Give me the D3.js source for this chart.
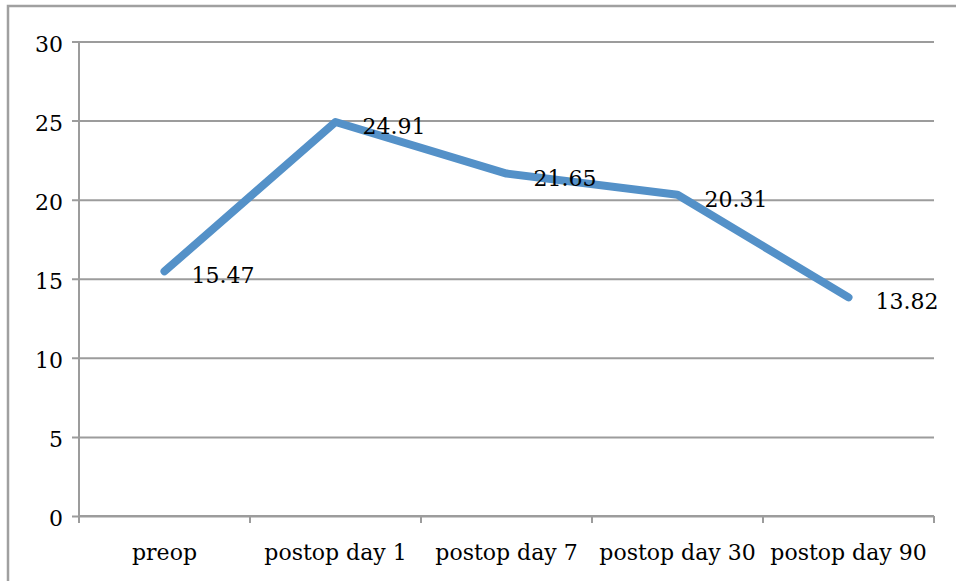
<!DOCTYPE html>
<html>
<head>
<meta charset="utf-8">
<script src="https://cdn.jsdelivr.net/npm/d3@7"></script>
<style>
  html, body { margin: 0; padding: 0; background: #fff; }
  svg { display: block; }
</style>
</head>
<body>
<div id="chart"></div>
<script>
  // ── Data ────────────────────────────────────────────────────────────────
  var categories = ["preop", "postop day 1", "postop day 7", "postop day 30", "postop day 90"];
  var values     = [15.47, 24.91, 21.65, 20.31, 13.82];
  var yTicks     = [0, 5, 10, 15, 20, 25, 30];

  var W = 956, H = 581;
  var margin = { top: 41.5, right: 22, bottom: 65, left: 79 };
  var iW = W - margin.left - margin.right;
  var iH = H - margin.top - margin.bottom;
  var font = "'DejaVu Serif', serif";
  var grid = "#9c9c9c";
  var ink  = "#000";

  var svg = d3.select("#chart").append("svg").attr("width", W).attr("height", H);

  // outer frame (only top/left visible in the crop)
  svg.append("rect").attr("x", 8).attr("y", 6).attr("width", W + 10).attr("height", H + 10)
    .attr("fill", "none").attr("stroke", "#a0a0a0").attr("stroke-width", 2.5);

  var g = svg.append("g").attr("transform", "translate(" + margin.left + "," + margin.top + ")");

  var x = d3.scaleBand().domain(categories).range([0, iW]);
  var y = d3.scaleLinear().domain([0, 30]).range([iH, 0]);

  // ── Gridlines + y axis ──────────────────────────────────────────────────
  var gY = g.append("g").call(d3.axisLeft(y).tickValues(yTicks).tickSize(-iW).tickPadding(16));
  gY.select(".domain").remove();
  gY.selectAll("line").attr("stroke", grid).attr("stroke-width", 2).attr("x1", -7);
  gY.selectAll("text").attr("fill", ink).attr("dy", "0.45em")
    .style("font-family", font).style("font-size", "22px");

  g.append("line").attr("x1", 0).attr("x2", 0).attr("y1", 0).attr("y2", iH + 7)
    .attr("stroke", grid).attr("stroke-width", 2);

  // ── x axis ──────────────────────────────────────────────────────────────
  var gX = g.append("g").attr("transform", "translate(0," + iH + ")");
  gX.append("line").attr("x1", 0).attr("x2", iW).attr("stroke", grid).attr("stroke-width", 2);
  var edges = categories.map(function (c) { return x(c); }).concat([iW]);
  gX.selectAll(".tk").data(edges).enter().append("line").attr("class", "tk")
    .attr("x1", function (d) { return d; }).attr("x2", function (d) { return d; })
    .attr("y1", 0).attr("y2", 7).attr("stroke", grid).attr("stroke-width", 2);
  gX.selectAll(".cl").data(categories).enter().append("text").attr("class", "cl")
    .attr("x", function (d) { return x(d) + x.bandwidth() / 2; })
    .attr("y", 44).attr("text-anchor", "middle").attr("fill", ink)
    .style("font-family", font).style("font-size", "22px")
    .text(function (d) { return d; });

  // ── Line ────────────────────────────────────────────────────────────────
  var pts = categories.map(function (c, i) { return { c: c, v: values[i] }; });
  var line = d3.line()
    .x(function (d) { return x(d.c) + x.bandwidth() / 2; })
    .y(function (d) { return y(d.v); });

  g.append("path").datum(pts).attr("d", line)
    .attr("fill", "none").attr("stroke", "#5491c8").attr("stroke-width", 8)
    .attr("stroke-linecap", "round").attr("stroke-linejoin", "round");

  // ── Data labels ─────────────────────────────────────────────────────────
  g.selectAll(".dl").data(pts).enter().append("text").attr("class", "dl")
    .attr("x", function (d) { return x(d.c) + x.bandwidth() / 2 + 27; })
    .attr("y", function (d) { return y(d.v) + 12; })
    .attr("fill", ink).style("font-family", font).style("font-size", "22px")
    .text(function (d) { return d.v.toFixed(2); });
</script>
</body>
</html>
